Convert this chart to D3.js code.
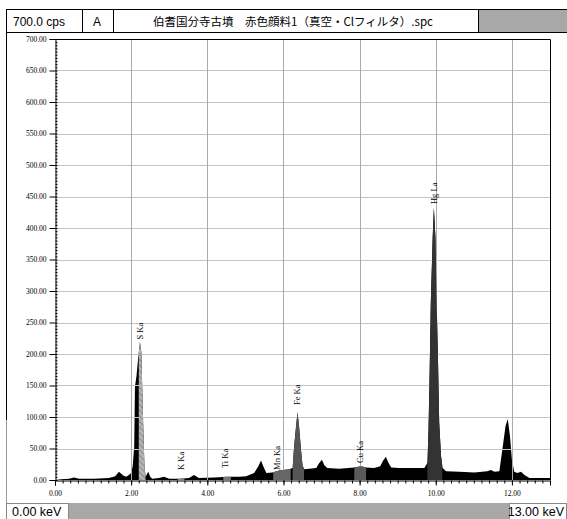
<!DOCTYPE html>
<html>
<head>
<meta charset="utf-8">
<script src="https://cdn.jsdelivr.net/npm/d3@7"></script>
<style>
  body { margin: 0; background: #fff; }
  svg { display: block; }
</style>
</head>
<body>
<script>
// spectrum: energy (keV) and counts (cps)
var energy = [0, 0.16, 0.37, 0.50, 0.63, 1.02, 1.42, 1.58, 1.68, 1.79, 1.87, 1.94, 2.00, 2.04,
  2.08, 2.10, 2.14, 2.18, 2.23, 2.27, 2.29, 2.32, 2.35, 2.38, 2.42, 2.45, 2.50, 2.55, 2.73,
  2.86, 3.00, 3.26, 3.52, 3.65, 3.78, 4.18, 4.52, 4.84, 5.02, 5.23, 5.34, 5.41, 5.47, 5.55,
  5.71, 5.89, 6.15, 6.24, 6.28, 6.33, 6.37, 6.41, 6.46, 6.50, 6.54, 6.68, 6.86, 6.94, 7.01,
  7.07, 7.15, 7.46, 7.86, 8.04, 8.17, 8.38, 8.54, 8.62, 8.69, 8.75, 8.83, 9.04, 9.44, 9.70,
  9.78, 9.81, 9.84, 9.87, 9.92, 9.95, 9.99, 10.02, 10.06, 10.09, 10.14, 10.18, 10.27, 10.62,
  11.01, 11.35, 11.45, 11.54, 11.67, 11.76, 11.83, 11.89, 11.95, 12.00, 12.06, 12.14, 12.24,
  12.33, 12.46, 13.0]
var counts = [0, 1, 2, 4, 2, 2, 3, 6, 13, 7, 5, 8, 11, 22,
  53, 148, 165, 191, 219, 202, 149, 80, 21, 5, 10, 13, 5, 2, 3,
  5, 2, 2, 3, 8, 3, 4, 5, 5, 6, 11, 22, 31, 22, 11,
  12, 15, 17, 19, 53, 85, 108, 85, 48, 24, 17, 18, 19, 27, 32,
  24, 19, 18, 20, 22, 20, 19, 22, 31, 37, 28, 20, 19, 19, 19,
  27, 80, 175, 282, 387, 432, 387, 292, 186, 91, 37, 19, 14, 13,
  12, 14, 16, 13, 14, 53, 85, 97, 69, 32, 13, 11, 13,
  8, 3, 3]

// regions of interest (shaded parts of the spectrum)
var roiStart = [2.20, 3.22, 4.42, 5.73, 6.24, 7.86, 9.78]
var roiEnd = [2.38, 3.40, 4.62, 6.19, 6.54, 8.17, 10.17]
var roiFill = ['url(#hatch)', '#888', '#777', '#666', '#555', '#5a5a5a', '#333']

// peak labels
var peakNames = ['S Ka', 'K Ka', 'Ti Ka', 'Mn Ka', 'Fe Ka', 'Cu Ka', 'Hg La']
var peakEnergy = [2.23, 3.31, 4.47, 5.83, 6.36, 8.00, 9.96]
var peakLabelAt = [223, 16, 19, 16, 119, 27, 438]

var xTicks = [0, 2, 4, 6, 8, 10, 12]
var yTicks = [0, 50, 100, 150, 200, 250, 300, 350, 400, 450, 500, 550, 600, 650, 700]

var W = 567
var H = 519
var spectrum = energy.map(function (e, i) { return [e, counts[i]] })

var x = d3.scaleLinear().domain([0, 13]).range([55, 550])
var y = d3.scaleLinear().domain([0, 700]).range([480, 39])

var svg = d3.select('body').append('svg')
  .attr('width', W)
  .attr('height', H)

var defs = svg.append('defs')
var pat = defs.append('pattern')
  .attr('id', 'hatch')
  .attr('patternUnits', 'userSpaceOnUse')
  .attr('width', 4)
  .attr('height', 4)
  .attr('patternTransform', 'rotate(-45)')
pat.append('rect').attr('width', 4).attr('height', 4).attr('fill', '#b4b4b4')
pat.append('line').attr('x1', 0).attr('y1', 0).attr('x2', 0).attr('y2', 4)
  .attr('stroke', '#6e6e6e').attr('stroke-width', 1.2)

// header row
var head = svg.append('g').attr('font-size', 12).attr('fill', '#000')
head.append('rect').attr('x', 6.5).attr('y', 9.5).attr('width', 560).attr('height', 23)
  .attr('fill', '#fff').attr('stroke', '#000')
head.append('rect').attr('x', 478).attr('y', 10).attr('width', 89).attr('height', 22)
  .attr('fill', '#a8a8a8')
;[82.5, 113.5, 478.5].forEach(function (cx) {
  head.append('line').attr('x1', cx).attr('x2', cx).attr('y1', 9.5).attr('y2', 32.5)
    .attr('stroke', '#000')
})
head.append('text').attr('x', 13).attr('y', 26)
  .attr('font-family', 'Liberation Sans, sans-serif').text('700.0 cps')
head.append('text').attr('x', 97).attr('y', 26).attr('text-anchor', 'middle')
  .attr('font-family', 'Liberation Sans, sans-serif').text('A')
head.append('text').attr('x', 293).attr('y', 26).attr('text-anchor', 'middle')
  .attr('font-family', 'Noto Sans CJK JP, sans-serif').attr('font-size', 11.5)
  .text('伯耆国分寺古墳　赤色顔料1（真空・Clフィルタ）.spc')

// outer frame of the plot panel
svg.append('line').attr('x1', 6.5).attr('x2', 6.5).attr('y1', 33).attr('y2', 420)
  .attr('stroke', '#000')
svg.append('line').attr('x1', 6.5).attr('x2', 6.5).attr('y1', 420).attr('y2', 504)
  .attr('stroke', '#999')

// grid
var grid = svg.append('g').attr('stroke', '#c4c4c4').attr('stroke-width', 1)
grid.selectAll('line.h').data(yTicks.slice(1, -1)).enter().append('line')
  .attr('x1', x(0)).attr('x2', x(13))
  .attr('y1', function (d) { return Math.round(y(d)) + 0.5 })
  .attr('y2', function (d) { return Math.round(y(d)) + 0.5 })

// spectrum
svg.append('path')
  .datum(spectrum)
  .attr('fill', '#000')
  .attr('d', d3.area()
    .x(function (d) { return x(d[0]) })
    .y0(y(0))
    .y1(function (d) { return y(d[1]) }))

grid.raise()
grid.selectAll('line.v').data(xTicks.slice(1)).enter().append('line')
  .attr('x1', function (d) { return Math.round(x(d)) + 0.5 })
  .attr('x2', function (d) { return Math.round(x(d)) + 0.5 })
  .attr('y1', y(700)).attr('y2', y(0))
  .attr('stroke', '#aaa')

// shaded regions drawn with the same area, clipped to each window
roiStart.forEach(function (s, i) {
  defs.append('clipPath').attr('id', 'roi' + i)
    .append('rect')
    .attr('x', x(s)).attr('width', x(roiEnd[i]) - x(s))
    .attr('y', y(700)).attr('height', y(0) - y(700))
  svg.append('path')
    .datum(spectrum)
    .attr('clip-path', 'url(#roi' + i + ')')
    .attr('fill', roiFill[i])
    .attr('d', d3.area()
      .x(function (d) { return x(d[0]) })
      .y0(y(0))
      .y1(function (d) { return y(d[1]) }))
})

// top and right border of the plot
svg.append('path')
  .attr('d', 'M' + x(0) + ',' + (y(700) + 0.5) + 'H' + (x(13) + 0.5) + 'V' + y(0))
  .attr('fill', 'none').attr('stroke', '#000')

// axes
var tickFont = 'Liberation Serif, serif'
var yAxis = svg.append('g')
  .attr('transform', 'translate(' + (x(0) + 0.5) + ',0)')
  .call(d3.axisLeft(y).tickValues(yTicks).tickSize(6).tickPadding(3)
    .tickFormat(d3.format('.2f')))
yAxis.selectAll('text').attr('font-family', tickFont).attr('font-size', 7.5)
  .attr('fill', '#000')
yAxis.select('.domain').attr('stroke', '#000')

svg.append('g')
  .attr('transform', 'translate(' + (x(0) + 0.5) + ',0)')
  .call(d3.axisRight(y).tickValues(d3.range(0, 700, 5)).tickSize(2).tickFormat(''))
  .select('.domain').remove()

var xAxis = svg.append('g')
  .attr('transform', 'translate(0,' + (y(0) + 0.5) + ')')
  .call(d3.axisBottom(x).tickValues(xTicks).tickSize(5).tickPadding(5)
    .tickFormat(d3.format('.2f')))
xAxis.selectAll('text').attr('font-family', tickFont).attr('font-size', 7.5)
  .attr('fill', '#000')

svg.append('g')
  .attr('transform', 'translate(0,' + (y(0) + 0.5) + ')')
  .call(d3.axisBottom(x).tickValues(d3.range(0, 13.01, 0.2)).tickSize(3).tickFormat(''))
  .select('.domain').remove()

// peak labels
svg.append('g').selectAll('text')
  .data(peakNames)
  .enter().append('text')
  .attr('transform', function (d, i) {
    return 'translate(' + x(peakEnergy[i]) + ',' + y(peakLabelAt[i]) + ') rotate(-90)'
  })
  .attr('dy', '0.35em')
  .attr('font-family', tickFont)
  .attr('font-size', 8.5)
  .attr('fill', '#000')
  .text(function (d) { return d })

// footer
var foot = svg.append('g').attr('font-family', 'Liberation Sans, sans-serif')
  .attr('font-size', 12.5).attr('fill', '#000')
foot.append('rect').attr('x', 69).attr('y', 503).attr('width', 440).attr('height', 16)
  .attr('fill', '#a8a8a8')
foot.append('rect').attr('x', 6.5).attr('y', 503.5).attr('width', 62).attr('height', 16)
  .attr('fill', '#fff').attr('stroke', '#888')
foot.append('rect').attr('x', 509.5).attr('y', 503.5).attr('width', 57).attr('height', 16)
  .attr('fill', '#fff').attr('stroke', '#888')
foot.append('text').attr('x', 12).attr('y', 516).text('0.00 keV')
foot.append('text').attr('x', 564).attr('y', 516).attr('text-anchor', 'end').text('13.00 keV')
</script>
</body>
</html>
